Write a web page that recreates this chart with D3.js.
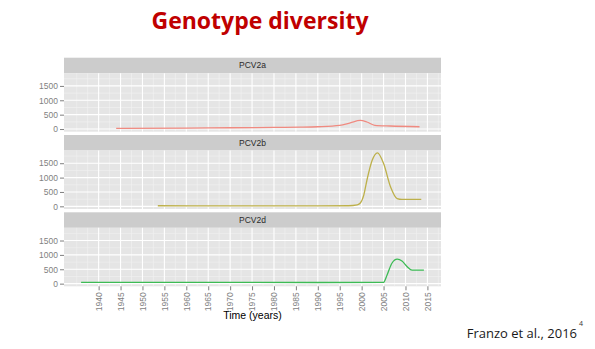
<!DOCTYPE html>
<html><head><meta charset="utf-8">
<script src="https://cdn.jsdelivr.net/npm/d3@7"></script>
<style>
html,body{margin:0;padding:0;background:#fff;}
svg{display:block;}
</style></head>
<body>
<svg id="chart" width="595" height="349"></svg>
<script>
// ---- data ----
const panels = ["PCV2a", "PCV2b", "PCV2d"];
const colors = ["#F08A80", "#BDB04A", "#3DBB55"];
const yearsA = [1944, 1960, 1970, 1980, 1986, 1990, 1995, 1997.4, 1999.7, 2001.2, 2003, 2006.5, 2013.2];
const valuesA = [25, 35, 45, 55, 65, 80, 125, 215, 300, 245, 130, 105, 80];
const yearsB = [1953.5, 1970, 1990, 1997, 1999, 1999.7, 2000.5, 2001.2, 2002.4, 2003.6, 2005, 2006.6, 2008.1, 2009.2, 2013.6];
const valuesB = [20, 15, 15, 20, 50, 115, 400, 907, 1600, 1860, 1490, 675, 270, 240, 240];
const yearsD = [1936, 1960, 1990, 2005, 2005.8, 2006.9, 2008.1, 2009.2, 2010.4, 2011.5, 2014.2];
const valuesD = [45, 42, 40, 45, 300, 710, 850, 790, 590, 470, 470];
const xTicks = [1940, 1945, 1950, 1955, 1960, 1965, 1970, 1975, 1980, 1985, 1990, 1995, 2000, 2005, 2010, 2015];
const yTicks = [0, 500, 1000, 1500];
const xMinor = [1935, 1937.5, 1942.5, 1947.5, 1952.5, 1957.5, 1962.5, 1967.5, 1972.5, 1977.5, 1982.5, 1987.5, 1992.5, 1997.5, 2002.5, 2007.5, 2012.5, 2017.5];
const yMinor = [250, 750, 1250, 1750];

const series = [
  {name: panels[0], years: yearsA, values: valuesA, color: colors[0]},
  {name: panels[1], years: yearsB, values: valuesB, color: colors[1]},
  {name: panels[2], years: yearsD, values: valuesD, color: colors[2]}
];

// ---- layout ----
const svg = d3.select("#chart");
const left = 64, right = 441;
const top0 = 57.7, stripH = 15.5, plotH = 58.5, period = 77.3;

const x = d3.scaleLinear().domain([1932.1, 2018.1]).range([left, right]);

// title
svg.append("text").attr("x", 260).attr("y", 29)
  .attr("text-anchor", "middle")
  .attr("font-family", "'Open Sans', 'Noto Sans', sans-serif")
  .attr("font-weight", "bold").attr("font-size", 23)
  .attr("fill", "#C00000").text("Genotype diversity");

const line = d3.line().curve(d3.curveMonotoneX);

series.forEach((s, i) => {
  const pt = top0 + i * period;
  const plotTop = pt + stripH, plotBot = plotTop + plotH;
  const y = d3.scaleLinear().domain([-92.5, 1942.5]).range([plotBot, plotTop]);
  const g = svg.append("g");

  // strip
  g.append("rect").attr("x", left).attr("y", pt).attr("width", right - left).attr("height", stripH).attr("fill", "#CCCCCC");
  g.append("text").attr("x", (left + right) / 2).attr("y", pt + stripH / 2 + 3)
    .attr("text-anchor", "middle").attr("font-family", "'Liberation Sans', Arial, sans-serif")
    .attr("font-size", 8.5).attr("fill", "#2A2A2A").text(s.name);

  // panel background
  g.append("rect").attr("x", left).attr("y", plotTop).attr("width", right - left).attr("height", plotH).attr("fill", "#E5E5E5");

  // minor grid
  xMinor.forEach(v => {
    const xx = x(v);
    if (xx >= left && xx <= right)
      g.append("line").attr("x1", xx).attr("x2", xx).attr("y1", plotTop).attr("y2", plotBot).attr("stroke", "#F2F2F2").attr("stroke-width", 0.6);
  });
  yMinor.forEach(v => {
    g.append("line").attr("x1", left).attr("x2", right).attr("y1", y(v)).attr("y2", y(v)).attr("stroke", "#F2F2F2").attr("stroke-width", 0.6);
  });
  // major grid
  xTicks.forEach(v => {
    g.append("line").attr("x1", x(v)).attr("x2", x(v)).attr("y1", plotTop).attr("y2", plotBot).attr("stroke", "#FFFFFF").attr("stroke-width", 1.1);
  });
  yTicks.forEach(v => {
    g.append("line").attr("x1", left).attr("x2", right).attr("y1", y(v)).attr("y2", y(v)).attr("stroke", "#FFFFFF").attr("stroke-width", 1.1);
  });

  // y axis
  const yAxis = d3.axisLeft(y).tickValues(yTicks).tickSize(4).tickPadding(2).tickFormat(d3.format("d"));
  const ya = g.append("g").attr("transform", `translate(${left},0)`).call(yAxis);
  ya.select(".domain").remove();
  ya.selectAll(".tick line").attr("stroke", "#7F7F7F");
  ya.selectAll(".tick text").attr("fill", "#7F7F7F").attr("font-size", 8.5)
    .attr("font-family", "'Liberation Sans', Arial, sans-serif");

  // data line
  const pts = s.years.map((yr, k) => [x(yr), y(s.values[k])]);
  g.append("path").attr("d", line(pts)).attr("fill", "none").attr("stroke", s.color).attr("stroke-width", 1.3);

  // x axis only on bottom panel
  if (i === series.length - 1) {
    const xAxis = d3.axisBottom(x).tickValues(xTicks).tickSize(4).tickPadding(2).tickFormat(d3.format("d"));
    const xa = g.append("g").attr("transform", `translate(0,${plotBot})`).call(xAxis);
    xa.select(".domain").remove();
    xa.selectAll(".tick line").attr("stroke", "#7F7F7F");
    xa.selectAll(".tick text").attr("fill", "#7F7F7F").attr("font-size", 8.5)
      .attr("font-family", "'Liberation Sans', Arial, sans-serif")
      .attr("transform", "rotate(-90)")
      .attr("text-anchor", "end").attr("dy", "0.32em").attr("x", -6).attr("y", 0);
    g.append("text").attr("x", (left + right) / 2).attr("y", 319)
      .attr("text-anchor", "middle").attr("font-family", "'Liberation Sans', Arial, sans-serif")
      .attr("font-size", 10.5).attr("fill", "#000").text("Time (years)");
  }
});

// citation
svg.append("text").attr("x", 577).attr("y", 338).attr("text-anchor", "end")
  .attr("font-family", "'Open Sans', 'Noto Sans', sans-serif").attr("font-size", 13)
  .attr("fill", "#1A1A1A").text("Franzo et al., 2016");
svg.append("text").attr("x", 581).attr("y", 326).attr("text-anchor", "middle")
  .attr("font-family", "'Open Sans', 'Noto Sans', sans-serif").attr("font-size", 7)
  .attr("fill", "#333").text("4");
</script>
</body></html>
